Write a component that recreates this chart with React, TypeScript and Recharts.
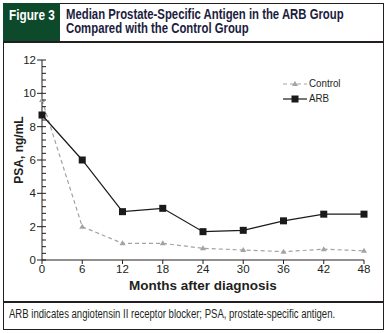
import { LineChart, Line, XAxis, YAxis, Legend } from 'recharts'

const months = [0, 6, 12, 18, 24, 30, 36, 42, 48]
const controlPsa = [9.6, 2.0, 1.0, 1.0, 0.7, 0.6, 0.5, 0.65, 0.55]
const arbPsa = [8.7, 6.0, 2.9, 3.1, 1.7, 1.78, 2.35, 2.75, 2.75]
const yMajorTicks = [0, 2, 4, 6, 8, 10, 12]

// minor ticks every 0.4 between the labelled ones
const yTicks = Array.from({ length: 31 }, (_, i) => (i * 2) / 5)

const data = months.map((m, i) => ({
  month: m,
  control: controlPsa[i],
  arb: arbPsa[i],
}))

const FONT = '"Liberation Sans", Arial, sans-serif'
const INK = '#231f20'

function YTick(props: any) {
  const { x, y, payload } = props
  const v = Math.round(payload.value * 10) / 10
  if (yMajorTicks.includes(v)) {
    return (
      <g>
        <line x1={x - 5} x2={x + 4} y1={y} y2={y} stroke={INK} strokeWidth={1} />
        <text x={x - 6} y={y} dy={4} textAnchor="end" fontSize={11.5} fontFamily={FONT} fill={INK}>
          {v}
        </text>
      </g>
    )
  }
  return <line x1={x} x2={x + 4} y1={y} y2={y} stroke={INK} strokeWidth={1} />
}

function Triangle(props: any) {
  const { cx, cy } = props
  if (cx == null || cy == null) return null
  return <path d={`M${cx},${cy - 3} L${cx + 3},${cy + 2} L${cx - 3},${cy + 2} Z`} fill="#a3a3a3" />
}

function Square(props: any) {
  const { cx, cy } = props
  if (cx == null || cy == null) return null
  return <rect x={cx - 3.5} y={cy - 3.5} width={7} height={7} fill="#1a1a1a" />
}

function LegendBox() {
  return (
    <div style={{ fontFamily: FONT, fontSize: 11.5, color: INK, lineHeight: '15px', textAlign: 'left' }}>
      <div style={{ display: 'flex', alignItems: 'center' }}>
        <svg width={25} height={10}>
          <line x1={0} x2={24} y1={5} y2={5} stroke="#a3a3a3" strokeWidth={1.2} strokeDasharray="4 3" />
          <path d="M12,2 L15,7 L9,7 Z" fill="#a3a3a3" />
        </svg>
        <span style={{ marginLeft: 1, display: 'inline-block', transform: 'scaleX(0.85)', transformOrigin: 'left' }}>
          Control
        </span>
      </div>
      <div style={{ display: 'flex', alignItems: 'center' }}>
        <svg width={25} height={10}>
          <line x1={0} x2={24} y1={5} y2={5} stroke="#1a1a1a" strokeWidth={1.2} />
          <rect x={8.5} y={1.5} width={7} height={7} fill="#1a1a1a" />
        </svg>
        <span style={{ marginLeft: 1, display: 'inline-block', transform: 'scaleX(0.85)', transformOrigin: 'left' }}>
          ARB
        </span>
      </div>
    </div>
  )
}

const squeeze = (s: number): React.CSSProperties => ({
  display: 'inline-block',
  whiteSpace: 'nowrap',
  transform: `scaleX(${s})`,
  transformOrigin: 'left top',
})

export default function App() {
  return (
    <div style={{ position: 'absolute', left: 0, top: 0, width: 388, height: 333, background: '#fff', fontFamily: FONT }}>
      {/* frame */}
      <div
        style={{
          position: 'absolute',
          left: 3,
          top: 3,
          width: 381,
          height: 327,
          boxSizing: 'border-box',
          border: `1.5px solid ${INK}`,
        }}
      />
      <div style={{ position: 'absolute', left: 3, top: 3, width: 57, height: 39, background: '#0d4a2b' }} />
      <div
        style={{
          position: 'absolute',
          left: 9,
          top: 7,
          color: '#fff',
          fontWeight: 'bold',
          fontSize: 14,
          lineHeight: '16px',
        }}
      >
        <span style={squeeze(0.84)}>Figure 3</span>
      </div>
      <div
        style={{
          position: 'absolute',
          left: 66,
          top: 7,
          color: '#1c1c40',
          fontWeight: 'bold',
          fontSize: 14,
          lineHeight: '14px',
        }}
      >
        <span style={squeeze(0.81)}>
          Median Prostate-Specific Antigen in the ARB Group
          <br />
          Compared with the Control Group
        </span>
      </div>
      <div style={{ position: 'absolute', left: 3, top: 41, width: 381, height: 1.5, background: INK }} />
      <div style={{ position: 'absolute', left: 3, top: 301, width: 381, height: 1.5, background: INK }} />
      <div style={{ position: 'absolute', left: 9, top: 307, fontSize: 12, color: INK, lineHeight: '15px' }}>
        <span style={squeeze(0.795)}>
          ARB indicates angiotensin II receptor blocker; PSA, prostate-specific antigen.
        </span>
      </div>

      <div style={{ position: 'absolute', left: 0, top: 0 }}>
        <LineChart width={388} height={300} data={data} margin={{ top: 60, right: 24, bottom: 10, left: 0 }}>
          <XAxis
            dataKey="month"
            type="number"
            domain={[0, 48]}
            ticks={months}
            height={30}
            axisLine={{ stroke: INK, strokeWidth: 1 }}
            tickLine={{ stroke: INK }}
            tickSize={4}
            tickMargin={1}
            tick={{ fontSize: 11.5, fontFamily: FONT, fill: INK }}
            label={{
              value: 'Months after diagnosis',
              position: 'insideBottom',
              offset: 0,
              fontSize: 13.5,
              fontWeight: 'bold',
              fontFamily: FONT,
              fill: INK,
            }}
          />
          <YAxis
            type="number"
            domain={[0, 12]}
            ticks={yTicks}
            interval={0}
            width={42}
            axisLine={{ stroke: INK, strokeWidth: 1 }}
            tickLine={false}
            tickSize={0}
            tickMargin={0}
            tick={<YTick />}
            label={{
              content: (p: any) => {
                const vb = p.viewBox
                const cx = vb.x + 19
                const cy = vb.y + vb.height / 2 - 10
                return (
                  <text
                    x={cx}
                    y={cy}
                    transform={`rotate(-90, ${cx}, ${cy})`}
                    textAnchor="middle"
                    dominantBaseline="central"
                    fontSize={12}
                    fontWeight="bold"
                    fontFamily={FONT}
                    fill={INK}
                  >
                    PSA, ng/mL
                  </text>
                )
              },
            }}
          />
          <Legend
            layout="horizontal"
            verticalAlign="middle"
            align="center"
            content={<LegendBox />}
            wrapperStyle={{ top: 76, left: 283, width: 80 }}
          />
          <Line
            dataKey="control"
            name="Control"
            stroke="#a3a3a3"
            strokeWidth={1.2}
            strokeDasharray="4 3"
            dot={<Triangle />}
            activeDot={false}
            isAnimationActive={false}
          />
          <Line
            dataKey="arb"
            name="ARB"
            stroke="#1a1a1a"
            strokeWidth={1.2}
            dot={<Square />}
            activeDot={false}
            isAnimationActive={false}
          />
        </LineChart>
      </div>
    </div>
  )
}
